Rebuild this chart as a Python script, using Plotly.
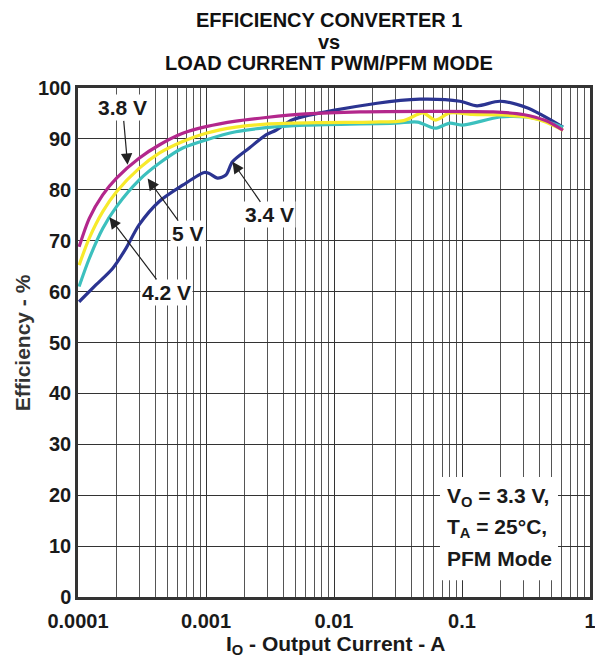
import math
import plotly.graph_objects as go

# Data
i_38 = [0.000102, 0.0001225, 0.000156, 0.0002, 0.0003, 0.000431, 0.000658, 0.001, 0.00171, 0.00294, 0.006, 0.016, 0.05, 0.175, 0.3, 0.45, 0.615]
e_38 = [68.8, 74.4, 79.0, 82.3, 86.2, 88.8, 91.1, 92.4, 93.5, 94.2, 94.9, 95.3, 95.4, 95.3, 94.8, 93.6, 91.7]

i_50 = [0.000102, 0.0001225, 0.000156, 0.0002, 0.0003, 0.000431, 0.000658, 0.001, 0.00171, 0.00294, 0.008, 0.02, 0.035, 0.0495, 0.0617, 0.0805, 0.12, 0.2, 0.32, 0.45, 0.615]
e_50 = [65.2, 70.5, 75.7, 79.6, 84.2, 87.2, 89.5, 91.1, 92.3, 92.9, 93.2, 93.3, 93.6, 95.1, 93.7, 95.1, 94.8, 94.7, 94.3, 93.3, 91.7]

i_42 = [0.000102, 0.0001225, 0.000156, 0.0002, 0.0003, 0.000431, 0.000658, 0.001, 0.00171, 0.00294, 0.006, 0.03, 0.045, 0.0617, 0.0805, 0.1, 0.198, 0.32, 0.45, 0.615]
e_42 = [61.0, 66.5, 72.4, 76.7, 81.9, 85.2, 88.2, 89.8, 91.4, 92.2, 92.7, 93.1, 93.3, 92.1, 93.1, 92.7, 94.3, 94.3, 93.5, 92.3]

i_34 = [0.000102, 0.000138, 0.000187, 0.000237, 0.0003, 0.000431, 0.000658, 0.00097, 0.00106, 0.00123, 0.00143, 0.00161, 0.00218, 0.00294, 0.00352, 0.0048, 0.0217, 0.0468, 0.0964, 0.131, 0.198, 0.322, 0.615]
e_34 = [58.0, 61.3, 64.6, 68.5, 73.1, 77.7, 80.9, 83.4, 83.2, 82.3, 82.9, 85.5, 88.2, 90.8, 91.7, 93.8, 97.0, 97.8, 97.4, 96.5, 97.4, 96.1, 92.3]

x_ticks = [0.0001, 0.001, 0.01, 0.1, 1]
x_tick_text = ["0.0001", "0.001", "0.01", "0.1", "1"]
y_ticks = [0, 10, 20, 30, 40, 50, 60, 70, 80, 90, 100]
minor_vals = [m * d for d in [0.0001, 0.001, 0.01, 0.1] for m in range(2, 10)]

title_lines = ["EFFICIENCY CONVERTER 1", "vs", "LOAD CURRENT PWM/PFM MODE"]
cond_lines = ["V<sub>O</sub> = 3.3 V,", "T<sub>A</sub> = 25°C,", "PFM Mode"]

FONT = "Liberation Sans, Arial, sans-serif"
TXT = "#1a1a1a"

fig = go.Figure()
series = [
    (i_34, e_34, "3.4 V", "#2B3491"),
    (i_42, e_42, "4.2 V", "#3CC0BE"),
    (i_50, e_50, "5 V", "#F7EA2B"),
    (i_38, e_38, "3.8 V", "#B3278C"),
]
for xs, ys, name, col in series:
    fig.add_trace(go.Scatter(x=xs, y=ys, mode="lines", name=name,
                             line=dict(color=col, width=3.2, shape="spline", smoothing=0.8),
                             showlegend=False))

# label arrows (head position in data coords, tail offset in pixels)
labels = [
    ("3.8 V", 0.000244, 84.9, -5, -57),
    ("5 V", 0.00035, 82.2, 40, 55),
    ("4.2 V", 0.000176, 74.6, 57, 75),
    ("3.4 V", 0.00161, 85.5, 37, 53),
]
for txt, x, y, ax, ay in labels:
    fig.add_annotation(x=math.log10(x), y=y, xref="x", yref="y", text="<b>" + txt + "</b>",
                       showarrow=True, arrowhead=2, arrowsize=1.9, arrowwidth=1.2,
                       arrowcolor="#222", ax=ax, ay=ay, bgcolor="white",
                       font=dict(size=21, color=TXT, family=FONT), borderpad=1)

# white box for conditions
fig.add_shape(type="rect", xref="paper", yref="paper", x0=0.707, x1=0.9375, y0=0.033, y1=0.236,
              fillcolor="white", line=dict(width=0), layer="above")
cond_y = [0.196, 0.1356, 0.0766]
for t, yy in zip(cond_lines, cond_y):
    fig.add_annotation(x=0.717, y=yy, xref="paper", yref="paper", text="<b>" + t + "</b>",
                       showarrow=False, xanchor="left", yanchor="middle",
                       font=dict(size=21, color=TXT, family=FONT))

# title lines
for t, yy in zip(title_lines, [1.1336, 1.0904, 1.0491]):
    fig.add_annotation(x=0.490, y=yy, xref="paper", yref="paper", text="<b>" + t + "</b>",
                       showarrow=False, xanchor="center", yanchor="middle",
                       font=dict(size=20, color="#111", family=FONT))

# axis titles
fig.add_annotation(x=0.502, y=-0.0943, xref="paper", yref="paper",
                   text="<b>I<sub>O</sub> - Output Current - A</b>", showarrow=False,
                   xanchor="center", yanchor="middle", font=dict(size=21, color=TXT, family=FONT))
fig.add_annotation(x=-0.109, y=0.499, xref="paper", yref="paper", textangle=-90,
                   text="<b>Efficiency - %</b>", showarrow=False,
                   xanchor="center", yanchor="middle", font=dict(size=21, color="#333", family=FONT))

fig.update_layout(
    width=595, height=667,
    margin=dict(l=78, r=5, t=88, b=70, autoexpand=False),
    paper_bgcolor="white", plot_bgcolor="white",
    font=dict(family=FONT, color=TXT),
)
fig.update_xaxes(type="log", range=[-4, 0], tickvals=x_ticks, ticktext=["<b>%s</b>" % t for t in x_tick_text],
                 tickfont=dict(size=20, color=TXT), ticks="", ticklabelstandoff=4, ticklabeloverflow="allow",
                 showgrid=True, gridcolor="#333", gridwidth=1.3,
                 minor=dict(tickvals=minor_vals, showgrid=True, gridcolor="#555", gridwidth=1.3, ticks=""),
                 showline=True, mirror=True, linecolor="#333", linewidth=2.5,
                 zeroline=False, automargin=False)
fig.update_yaxes(range=[0, 100], tickvals=y_ticks, ticktext=["<b>%d</b>" % v for v in y_ticks],
                 tickfont=dict(size=20, color=TXT), ticks="",
                 showgrid=True, gridcolor="#333", gridwidth=1.3,
                 showline=True, mirror=True, linecolor="#333", linewidth=2.5,
                 zeroline=False, automargin=False)

# remove the default page margin so the 595x667 figure fills the window exactly
fig.write_html("out.html", config={"displayModeBar": False},
               post_script="document.body.style.margin='0';document.body.style.overflow='hidden';")
